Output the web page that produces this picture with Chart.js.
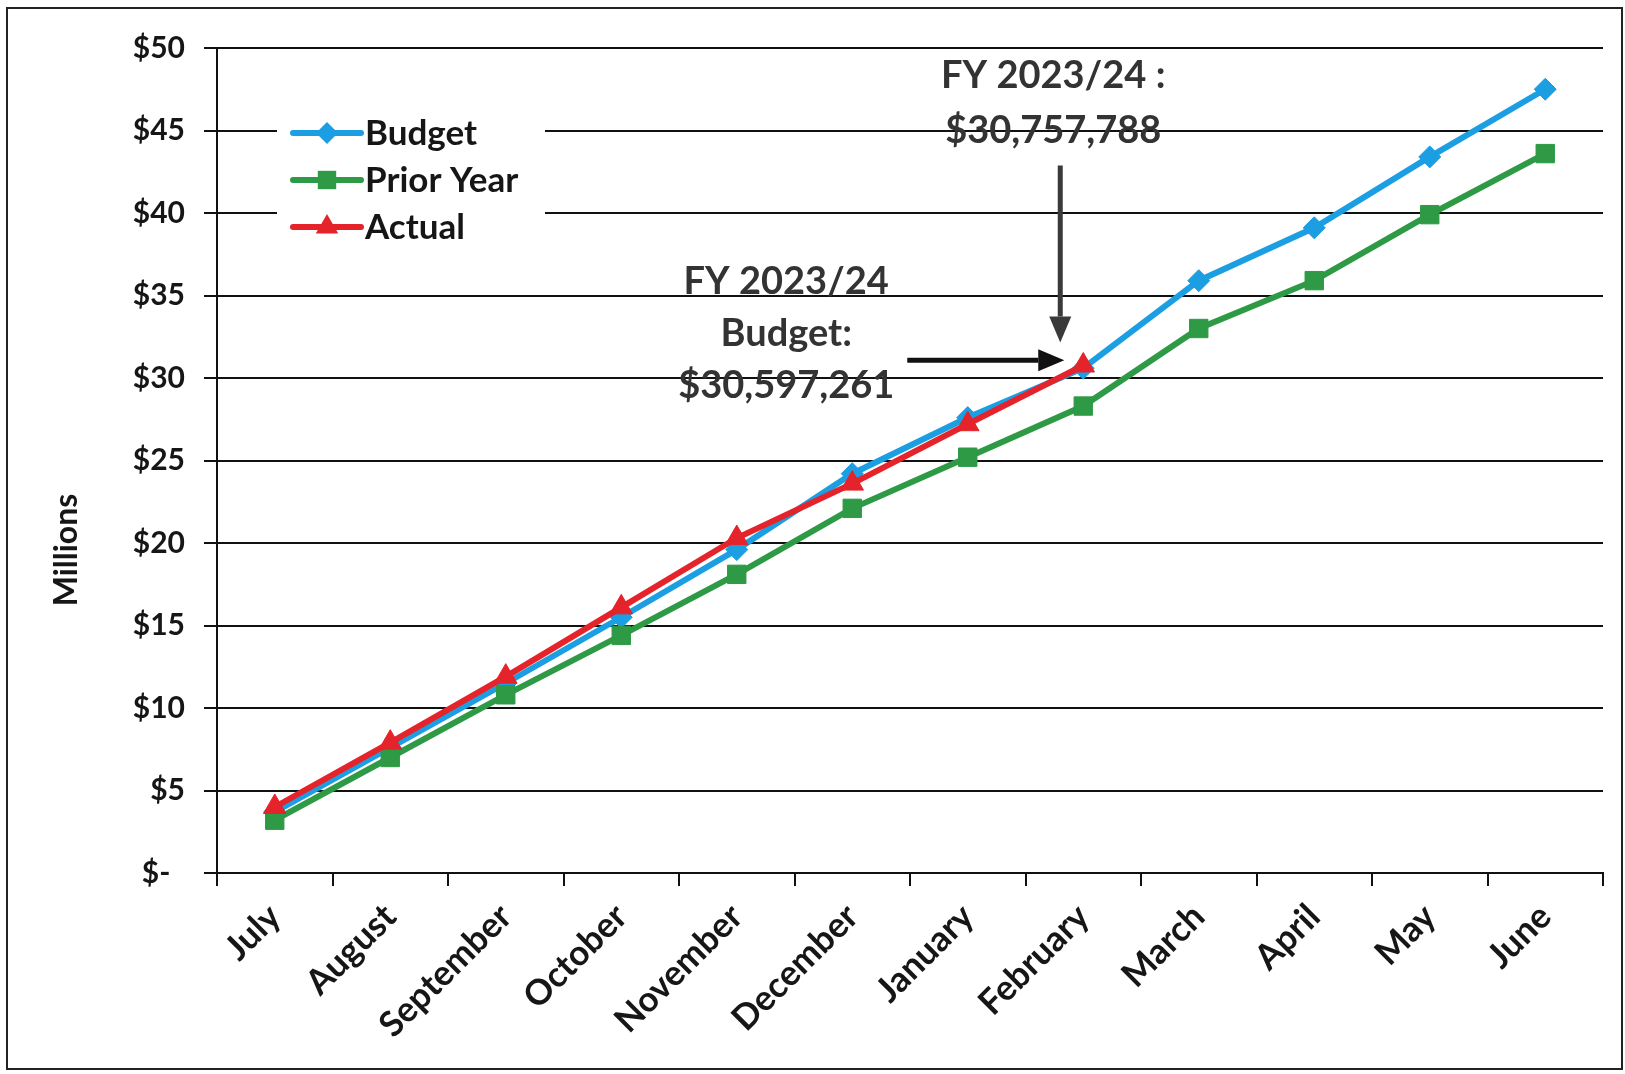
<!DOCTYPE html>
<html>
<head>
<meta charset="utf-8">
<title>Monthly Cumulative Revenue</title>
<script src="https://cdn.jsdelivr.net/npm/chart.js"></script>
<style>
  html, body { margin: 0; padding: 0; background: #fff; }
  canvas { display: block; }
</style>
</head>
<body>
<canvas id="chart" width="1625" height="1074"></canvas>
<script>
// Cumulative totals, in millions of dollars
const months = ['July', 'August', 'September', 'October', 'November', 'December',
                'January', 'February', 'March', 'April', 'May', 'June'];
const budget = [3.7, 7.6, 11.5, 15.5, 19.6, 24.2, 27.6, 30.597261, 35.9, 39.1, 43.4, 47.5];
const priorYear = [3.2, 7.0, 10.8, 14.4, 18.1, 22.1, 25.2, 28.3, 33.0, 35.9, 39.9, 43.6];
const actual = [4.0, 7.9, 11.9, 16.1, 20.3, 23.6, 27.2, 30.757788, null, null, null, null];

const yTickValues = [0, 5, 10, 15, 20, 25, 30, 35, 40, 45, 50];
const yTickLabels = ['$-  ', '$5', '$10', '$15', '$20', '$25', '$30', '$35', '$40', '$45', '$50'];

// callouts pinned to the February points
const actualNote = ['FY 2023/24 :', '$30,757,788'];
const budgetNote = ['FY 2023/24', 'Budget:', '$30,597,261'];
const noteMonth = 7;

const FONT = 'Lato, "Open Sans", sans-serif';
const INK = '#161616';

function drawMarker(ctx, style, x, y, r, color) {
  ctx.fillStyle = color;
  ctx.beginPath();
  if (style === 'rectRot') {
    ctx.moveTo(x, y - r);
    ctx.lineTo(x + r, y);
    ctx.lineTo(x, y + r);
    ctx.lineTo(x - r, y);
  } else if (style === 'rect') {
    const s = r * Math.SQRT1_2;
    ctx.rect(x - s, y - s, 2 * s, 2 * s);
  } else {
    for (let k = 0; k < 3; k++) {
      const a = k * 2 * Math.PI / 3;
      const px = x + Math.sin(a) * r, py = y - Math.cos(a) * r;
      if (k === 0) ctx.moveTo(px, py); else ctx.lineTo(px, py);
    }
  }
  ctx.closePath();
  ctx.fill();
}

function drawArrow(ctx, x1, y1, x2, y2, color) {
  const ang = Math.atan2(y2 - y1, x2 - x1);
  const head = 26, half = 11;
  ctx.strokeStyle = color;
  ctx.fillStyle = color;
  ctx.lineWidth = 5;
  ctx.beginPath();
  ctx.moveTo(x1, y1);
  ctx.lineTo(x2 - Math.cos(ang) * head, y2 - Math.sin(ang) * head);
  ctx.stroke();
  ctx.beginPath();
  ctx.moveTo(x2, y2);
  ctx.lineTo(x2 - Math.cos(ang) * head - Math.sin(ang) * half, y2 - Math.sin(ang) * head + Math.cos(ang) * half);
  ctx.lineTo(x2 - Math.cos(ang) * head + Math.sin(ang) * half, y2 - Math.sin(ang) * head - Math.cos(ang) * half);
  ctx.closePath();
  ctx.fill();
}

const decor = {
  id: 'decor',
  beforeDraw(chart) {
    const ctx = chart.ctx;
    ctx.save();
    ctx.fillStyle = '#fff';
    ctx.fillRect(0, 0, chart.width, chart.height);
    ctx.restore();
  },
  afterDraw(chart) {
    const ctx = chart.ctx;
    const area = chart.chartArea;
    const xs = chart.scales.x, ys = chart.scales.y;
    ctx.save();

    // outer frame
    ctx.strokeStyle = '#222';
    ctx.lineWidth = 2;
    ctx.strokeRect(7, 8, chart.width - 10, chart.height - 13);

    // axis title
    ctx.save();
    ctx.translate(67, 550);
    ctx.rotate(-Math.PI / 2);
    ctx.font = 'bold 32px ' + FONT;
    ctx.fillStyle = INK;
    ctx.textAlign = 'center';
    ctx.textBaseline = 'middle';
    ctx.fillText('Millions', 0, 0);
    ctx.restore();

    // legend inside the plot, on a white box
    const lx = area.left + 76, ly = area.top + 85, row = 47;
    ctx.fillStyle = '#fff';
    ctx.fillRect(area.left + 60, area.top + 52, 268, 158);
    chart.data.datasets.forEach((ds, i) => {
      const y = ly + i * row;
      ctx.strokeStyle = ds.borderColor;
      ctx.lineWidth = 6;
      ctx.lineCap = 'round';
      ctx.beginPath();
      ctx.moveTo(lx, y);
      ctx.lineTo(lx + 68, y);
      ctx.stroke();
      drawMarker(ctx, ds.pointStyle, lx + 34, y, ds.pointRadius, ds.borderColor);
      ctx.font = 'bold 35px ' + FONT;
      ctx.fillStyle = INK;
      ctx.textAlign = 'left';
      ctx.textBaseline = 'middle';
      ctx.fillText(ds.label, lx + 72, y + 1);
    });

    // callouts
    const px = xs.getPixelForValue(noteMonth);
    const pa = ys.getPixelForValue(actual[noteMonth]);
    const pb = ys.getPixelForValue(budget[noteMonth]);
    ctx.font = 'bold 38px ' + FONT;
    ctx.fillStyle = '#333';
    ctx.textAlign = 'center';
    ctx.textBaseline = 'middle';
    actualNote.forEach((t, i) => ctx.fillText(t, px - 30, pa - 290 + i * 55));
    budgetNote.forEach((t, i) => ctx.fillText(t, px - 297, pb - 86 + i * 52));
    ctx.lineCap = 'butt';
    drawArrow(ctx, px - 23, pa - 200, px - 23, pa - 23, '#3a3a3a');
    drawArrow(ctx, px - 176, pb - 8, px - 19, pb - 8, '#111');

    ctx.restore();
  }
};

function series(label, data, color, style, radius, order) {
  return {
    label: label,
    data: data,
    borderColor: color,
    backgroundColor: color,
    borderWidth: 6,
    pointStyle: style,
    pointRadius: radius,
    pointBorderWidth: 1,
    pointBorderColor: color,
    pointBackgroundColor: color,
    tension: 0,
    order: order
  };
}

new Chart(document.getElementById('chart'), {
  type: 'line',
  data: {
    labels: months,
    datasets: [
      series('Budget', budget, '#1c9ee3', 'rectRot', 11, 3),
      series('Prior Year', priorYear, '#2e9a46', 'rect', 13, 2),
      series('Actual', actual, '#e5232b', 'triangle', 13, 1)
    ]
  },
  options: {
    responsive: false,
    animation: false,
    devicePixelRatio: 1,
    layout: { padding: { top: 48, right: 22, left: 0, bottom: 0 } },
    plugins: {
      legend: { display: false },
      tooltip: { enabled: false }
    },
    scales: {
      x: {
        offset: true,
        grid: { display: true, offset: true, drawOnChartArea: false, drawTicks: true, tickLength: 13, color: '#111', lineWidth: 2 },
        border: { display: true, color: '#111', width: 2 },
        ticks: {
          color: INK,
          font: { family: FONT, size: 35, weight: 'bold' },
          minRotation: 45,
          maxRotation: 45,
          autoSkip: false,
          padding: 10
        },
        afterFit(scale) { scale.height = 201; }
      },
      y: {
        min: 0,
        max: 50,
        afterBuildTicks(scale) { scale.ticks = yTickValues.map(v => ({ value: v })); },
        grid: { color: '#111', lineWidth: 2, tickLength: 13, drawTicks: true },
        border: { display: true, color: '#111', width: 2 },
        ticks: {
          color: INK,
          font: { family: FONT, size: 30, weight: 'bold' },
          padding: 19,
          callback: (v, i) => yTickLabels[i]
        },
        afterFit(scale) { scale.width = 217; }
      }
    }
  },
  plugins: [decor]
});
</script>
</body>
</html>
